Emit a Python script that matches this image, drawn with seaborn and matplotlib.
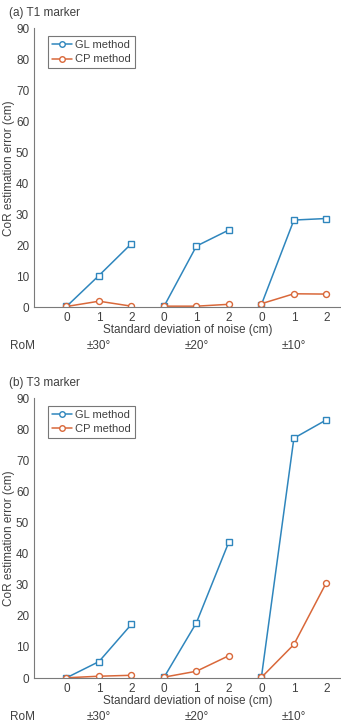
import numpy as np
import pandas as pd
import matplotlib
matplotlib.use("Agg")
import matplotlib.pyplot as plt
import seaborn as sns
from matplotlib.lines import Line2D

# valores (cm)
rom_labels = ["±30°", "±20°", "±10°"]
noise_sd = [0, 1, 2]

gl_t1 = [[0.2, 10.2, 20.5], [0.2, 19.7, 24.9], [0.8, 28.1, 28.6]]
cp_t1 = [[0.2, 1.9, 0.3], [0.3, 0.3, 0.9], [1.1, 4.3, 4.2]]

gl_t3 = [[0.1, 5.3, 17.3], [0.2, 17.8, 43.8], [0.3, 77.1, 83.0]]
cp_t3 = [[0.1, 0.6, 0.9], [0.3, 2.2, 7.2], [0.2, 10.8, 30.7]]

titulos = ["(a) T1 marker", "(b) T3 marker"]

azul = "#2f86bd"
naranja = "#d9683a"
gris = "#404040"

sns.set_style("white")
plt.rcParams["font.family"] = ["Liberation Sans", "DejaVu Sans"]
plt.rcParams["font.size"] = 8.5

fig = plt.figure(figsize=(3.41, 7.26), dpi=100)
ejes = [fig.add_axes([0.0997, 0.577, 0.9003, 0.384]),
        fig.add_axes([0.0997, 0.066, 0.9003, 0.3857])]

datos = [(gl_t1, cp_t1), (gl_t3, cp_t3)]

for eje, (gl, cp), titulo in zip(ejes, datos, titulos):
    for g in range(3):
        pos = [g * 3 + k for k in range(3)]
        sns.lineplot(x=pos, y=gl[g], ax=eje, color=azul, marker="s", markersize=3.8,
                     markerfacecolor="white", markeredgecolor=azul, markeredgewidth=1,
                     linewidth=1.1, legend=False)
        sns.lineplot(x=pos, y=cp[g], ax=eje, color=naranja, marker="o", markersize=4.3,
                     markerfacecolor="white", markeredgecolor=naranja, markeredgewidth=1,
                     linewidth=1.1, legend=False)

    eje.set_xlim(-1, 8.45)
    eje.set_ylim(0, 90)
    eje.set_yticks(range(0, 91, 10))
    eje.set_xticks(range(9))
    eje.set_xticklabels([str(n) for n in noise_sd] * 3)
    eje.tick_params(direction="in", length=3, colors=gris, labelsize=8.5)
    for lado in ["top", "right"]:
        eje.spines[lado].set_visible(False)
    for lado in ["left", "bottom"]:
        eje.spines[lado].set_color("#7a7a7a")
        eje.spines[lado].set_linewidth(0.8)
    eje.set_xlabel("Standard deviation of noise (cm)", color=gris, fontsize=8.5, labelpad=0)
    eje.set_ylabel("CoR estimation error (cm)", color=gris, fontsize=8.5, labelpad=0.5)

    # etiquetas de RoM debajo del eje
    eje.text(-0.078, -0.138, "RoM", transform=eje.transAxes, color=gris, fontsize=8.5,
             ha="left", va="center")
    for g, etiqueta in enumerate(rom_labels):
        eje.text(g * 3 + 1, -0.138, etiqueta, transform=eje.get_xaxis_transform(),
                 color=gris, fontsize=8.5, ha="center", va="center")

    eje.text(-0.08, 1.055, titulo, transform=eje.transAxes, color=gris, fontsize=8.5,
             ha="left", va="center")

    manejadores = [Line2D([], [], color=azul, marker="o", markersize=4,
                          markerfacecolor="white", linewidth=1.1, label="GL method"),
                   Line2D([], [], color=naranja, marker="o", markersize=4,
                          markerfacecolor="white", linewidth=1.1, label="CP method")]
    ley = eje.legend(handles=manejadores, loc="upper left", bbox_to_anchor=(0.046, 0.972),
                     fontsize=8, frameon=True, fancybox=False, handlelength=1.8,
                     handletextpad=0.3, borderpad=0.35, labelspacing=0.4, borderaxespad=0)
    ley.get_frame().set_edgecolor("#555555")
    ley.get_frame().set_linewidth(0.8)
    for t in ley.get_texts():
        t.set_color(gris)

fig.savefig("out.png", dpi=100)
